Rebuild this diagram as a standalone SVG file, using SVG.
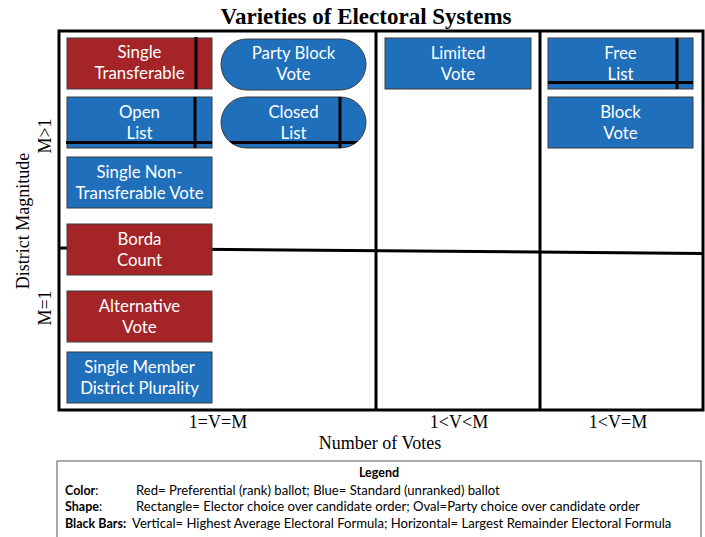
<svg xmlns="http://www.w3.org/2000/svg" width="705" height="537" viewBox="0 0 705 537">
<defs>
<style>
.red{fill:#A52428;stroke:#3c3c3c;stroke-width:1}
.blue{fill:#1F6FBA;stroke:#3c3c3c;stroke-width:1}
.bt{font-family:Lato,"Open Sans",sans-serif;font-size:16.8px;fill:#fff;text-anchor:middle}
.bar{stroke:#000;stroke-width:3;fill:none}
.frame{stroke:#000;stroke-width:3;fill:none}
.ax{font-family:"Liberation Serif",serif;font-size:18px;fill:#000;text-anchor:middle}
.title{font-family:"Liberation Serif",serif;font-size:23px;font-weight:bold;fill:#000;text-anchor:middle}
.lg{font-family:Lato,"Open Sans",sans-serif;font-size:13.1px;fill:#000}
.lgb{font-family:Lato,"Open Sans",sans-serif;font-size:12.5px;fill:#000;font-weight:bold}
</style>
<clipPath id="clipClosed"><rect x="221" y="97" width="145" height="51" rx="25.5" ry="25.5"/></clipPath>
</defs>
<rect width="705" height="537" fill="#fff"/>
<text class="title" x="366" y="24">Varieties of Electoral Systems</text>
<g id="grid">
<line class="frame" x1="59" y1="248" x2="703" y2="253.5" stroke-width="2.5"/>
<rect class="frame" x="59" y="31" width="644" height="379"/>
<line class="frame" x1="376" y1="31" x2="376" y2="410"/>
<line class="frame" x1="540" y1="31" x2="540" y2="410"/>
</g>
<g id="axes">
<text class="ax" transform="translate(29,221) rotate(-90)">District Magnitude</text>
<text class="ax" transform="translate(51,136) rotate(-90)">M&gt;1</text>
<text class="ax" transform="translate(51,308) rotate(-90)">M=1</text>
<text class="ax" x="218" y="428">1=V=M</text>
<text class="ax" x="459" y="428">1&lt;V&lt;M</text>
<text class="ax" x="618" y="428">1&lt;V=M</text>
<text class="ax" x="380" y="449">Number of Votes</text>
</g>
<g id="single-transferable">
<rect class="red" x="67" y="38" width="145" height="51"/>
<line class="bar" x1="196" y1="37" x2="196" y2="89"/>
<text class="bt" x="139.5" y="58">Single</text>
<text class="bt" x="139.5" y="79">Transferable</text>
</g>
<g id="party-block-vote">
<rect class="blue" x="221" y="39" width="145" height="51" rx="25.5" ry="25.5"/>
<text class="bt" x="293.5" y="59">Party Block</text>
<text class="bt" x="293.5" y="80">Vote</text>
</g>
<g id="open-list">
<rect class="blue" x="67" y="97" width="145" height="51"/>
<line class="bar" x1="195" y1="97" x2="195" y2="148"/>
<line class="bar" x1="66" y1="142.5" x2="212" y2="142.5"/>
<text class="bt" x="139.5" y="118">Open</text>
<text class="bt" x="139.5" y="139">List</text>
</g>
<g id="closed-list">
<rect class="blue" x="221" y="97" width="145" height="51" rx="25.5" ry="25.5"/>
<g clip-path="url(#clipClosed)">
<line class="bar" x1="340" y1="97" x2="340" y2="148"/>
<line class="bar" x1="221" y1="142.5" x2="366" y2="142.5"/>
</g>
<text class="bt" x="293.5" y="118">Closed</text>
<text class="bt" x="293.5" y="139">List</text>
</g>
<g id="sntv">
<rect class="blue" x="67" y="157" width="145" height="51"/>
<text class="bt" x="139.5" y="178">Single Non-</text>
<text class="bt" x="139.5" y="199">Transferable Vote</text>
</g>
<g id="borda-count">
<rect class="red" x="67" y="224" width="145" height="51"/>
<text class="bt" x="139.5" y="245">Borda</text>
<text class="bt" x="139.5" y="266">Count</text>
</g>
<g id="alternative-vote">
<rect class="red" x="67" y="291" width="145" height="51"/>
<text class="bt" x="139.5" y="312">Alternative</text>
<text class="bt" x="139.5" y="333">Vote</text>
</g>
<g id="smdp">
<rect class="blue" x="67" y="352" width="145" height="51"/>
<text class="bt" x="139.5" y="373">Single Member</text>
<text class="bt" x="139.5" y="394">District Plurality</text>
</g>
<g id="limited-vote">
<rect class="blue" x="385" y="38" width="146" height="51"/>
<text class="bt" x="458" y="59">Limited</text>
<text class="bt" x="458" y="80">Vote</text>
</g>
<g id="free-list">
<rect class="blue" x="548" y="38" width="145" height="51"/>
<line class="bar" x1="677" y1="38" x2="677" y2="89"/>
<line class="bar" x1="548" y1="82.5" x2="693" y2="82.5"/>
<text class="bt" x="620.5" y="59">Free</text>
<text class="bt" x="620.5" y="80">List</text>
</g>
<g id="block-vote">
<rect class="blue" x="548" y="97" width="145" height="51"/>
<text class="bt" x="620.5" y="118">Block</text>
<text class="bt" x="620.5" y="139">Vote</text>
</g>
<g id="legend">
<rect x="57" y="461" width="644" height="80" fill="#fff" stroke="#555" stroke-width="1"/>
<text class="lgb" x="379" y="477" text-anchor="middle">Legend</text>
<text class="lgb" x="65" y="495">Color<tspan font-weight="normal">:</tspan></text>
<text class="lg" x="136" y="495">Red= Preferential (rank) ballot; Blue= Standard (unranked) ballot</text>
<text class="lgb" x="65" y="511">Shape<tspan font-weight="normal">:</tspan></text>
<text class="lg" x="136" y="511">Rectangle= Elector choice over candidate order; Oval=Party choice over candidate order</text>
<text class="lgb" x="65" y="528">Black Bars:</text>
<text class="lg" x="132" y="528">Vertical= Highest Average Electoral Formula; Horizontal= Largest Remainder Electoral Formula</text>
</g>
</svg>
